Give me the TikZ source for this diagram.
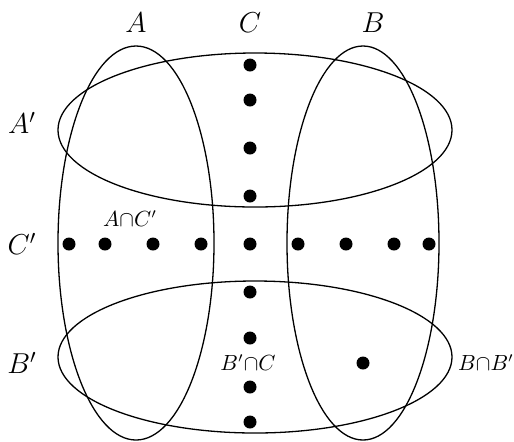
\documentclass[tikz,border=0pt]{standalone}
\begin{document}
\begin{tikzpicture}[x=0.5pt,y=-0.5pt,
  set/.style={line width=0.65pt},
  pt/.style={circle,fill=black,inner sep=0pt,minimum size=6.5pt},
  big/.style={font=\fontsize{14.4}{16}\selectfont},
  small/.style={font=\fontsize{10.5}{12}\selectfont,inner sep=0pt}]
\useasboundingbox (0,0) rectangle (514,441);
% sets
\draw[set] (136,243) ellipse [x radius=78, y radius=197];
\draw[set] (363,243) ellipse [x radius=76, y radius=197];
\draw[set] (255,130) ellipse [x radius=197, y radius=77];
\draw[set] (255,357) ellipse [x radius=197, y radius=76];
% labels
\node[big] (lA) at (136,23) {$A$};
\node[big] (lC) at (250,23) {$C$};
\node[big] (lB) at (373,23) {$B$};
\node[big] (lAp) at (22,123) {$A'$};
\node[big] (lCp) at (22,244) {$C'$};
\node[big] (lBp) at (22,363) {$B'$};
\node[small] (lAC) at (130,219) {$A{\cap}C'$};
\node[small] (lBC) at (248,363) {$B'{\cap}C$};
\node[small] (lBB) at (486,363) {$B{\cap}B'$};
% column C
\foreach \y [count=\i] in {65,100,148,196,292,338,387,422}
  \node[pt] (c\i) at (250,\y) {};
% row C'
\foreach \x [count=\i] in {69,105,153,201,250,298,346,394,429}
  \node[pt] (r\i) at (\x,244) {};
\node[pt] (bb) at (363,363) {};
\end{tikzpicture}
\end{document}
